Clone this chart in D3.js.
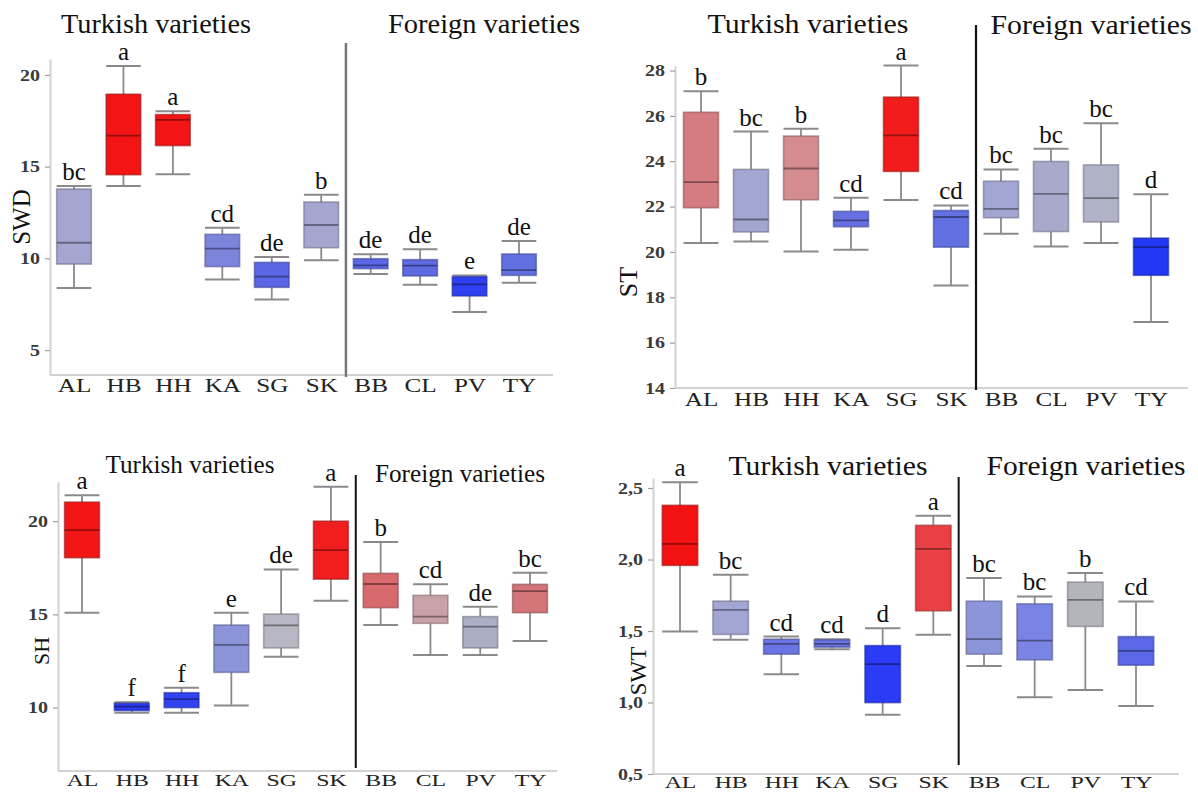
<!DOCTYPE html>
<html>
<head>
<meta charset="utf-8">
<script src="https://cdn.jsdelivr.net/npm/d3@7"></script>
<style>
  html, body { margin: 0; padding: 0; background: #fff; }
  svg { display: block; }
  text { font-family: "Liberation Serif", "Times New Roman", serif; }
</style>
</head>
<body>
<svg id="chart" width="1198" height="793"></svg>
<script>
// ---------------- DATA ----------------
const categories = ["AL", "HB", "HH", "KA", "SG", "SK", "BB", "CL", "PV", "TY"];
const groupTitles = ["Turkish varieties", "Foreign varieties"];

// SWD panel
const swdLow    = [8.38, 13.95, 14.58, 8.85, 7.76, 9.89, 9.15, 8.56, 7.07, 8.67];
const swdQ1     = [9.69, 14.56, 16.15, 9.55, 8.42, 10.58, 9.44, 9.04, 7.95, 9.07];
const swdMedian = [10.85, 16.69, 17.55, 10.53, 9.00, 11.82, 9.62, 9.60, 8.58, 9.36];
const swdQ3     = [13.78, 18.95, 17.84, 11.31, 9.78, 13.07, 9.98, 9.93, 9.00, 10.24];
const swdHigh   = [13.95, 20.49, 18.02, 11.67, 10.07, 13.47, 10.22, 10.49, 9.07, 10.95];
const swdLetters = ["bc", "a", "a", "cd", "de", "b", "de", "de", "e", "de"];
const swdTicks = [5, 10, 15, 20];

// ST panel
const stLow    = [20.39, 20.46, 20.02, 20.10, 22.29, 18.52, 20.80, 20.24, 20.39, 16.91];
const stQ1     = [21.95, 20.88, 22.30, 21.11, 23.55, 20.21, 21.51, 20.90, 21.32, 18.97];
const stMedian = [23.08, 21.43, 23.68, 21.39, 25.14, 21.54, 21.90, 22.56, 22.37, 20.21];
const stQ3     = [26.16, 23.64, 25.11, 21.79, 26.83, 21.83, 23.12, 23.99, 23.84, 20.61];
const stHigh   = [27.09, 25.31, 25.43, 22.39, 28.22, 22.05, 23.64, 24.55, 25.68, 22.54];
const stLetters = ["b", "bc", "b", "cd", "a", "cd", "bc", "bc", "bc", "d"];
const stTicks = [14, 16, 18, 20, 22, 24, 26, 28];

// SH panel
const shLow    = [15.09, 9.73, 9.73, 10.11, 12.73, 15.73, 14.43, 12.82, 12.82, 13.57];
const shQ1     = [18.04, 9.84, 10.00, 11.89, 13.20, 16.89, 15.36, 14.52, 13.20, 15.09];
const shMedian = [19.52, 10.05, 10.45, 13.36, 14.41, 18.45, 16.63, 14.88, 14.34, 16.25];
const shQ3     = [21.02, 10.23, 10.80, 14.43, 15.02, 20.00, 17.20, 16.02, 14.88, 16.61];
const shHigh   = [21.39, 10.29, 11.07, 15.09, 17.41, 21.84, 18.88, 16.61, 15.41, 17.23];
const shLetters = ["a", "f", "f", "e", "de", "a", "b", "cd", "de", "bc"];
const shTicks = [10, 15, 20];

// SWT panel
const swtLow    = [1.497, 1.438, 1.198, 1.373, 0.915, 1.473, 1.256, 1.037, 1.088, 0.976];
const swtQ1     = [1.959, 1.476, 1.338, 1.387, 0.999, 1.641, 1.338, 1.298, 1.532, 1.261];
const swtMedian = [2.110, 1.648, 1.410, 1.410, 1.268, 2.075, 1.443, 1.433, 1.718, 1.361];
const swtQ3     = [2.379, 1.709, 1.443, 1.438, 1.398, 2.239, 1.709, 1.690, 1.842, 1.461];
const swtHigh   = [2.540, 1.893, 1.461, 1.443, 1.520, 2.306, 1.870, 1.742, 1.905, 1.707];
const swtLetters = ["a", "bc", "cd", "cd", "d", "a", "bc", "bc", "b", "cd"];
const swtTicks = [0.5, 1.0, 1.5, 2.0, 2.5];

// box fill colours (style)
const swdColors = ["#a4a6cf", "#f31515", "#f31515", "#7c84dc", "#5a66e4", "#a4a6cf", "#5c68e6", "#5e6ae2", "#2f3ff2", "#6270e2"];
const stColors  = ["#d47c80", "#a2a6d0", "#d48c90", "#6670e2", "#f21c1c", "#6270e2", "#a2a6d2", "#a8aacc", "#b0b2c8", "#2238f2"];
const shColors  = ["#f21616", "#2a3cf2", "#3042f2", "#8c94da", "#b8b8c4", "#f01e1e", "#d86a6e", "#c8a2a6", "#acaec6", "#d27478"];
const swtColors = ["#f21212", "#a2a6d2", "#6a74e2", "#6a74e2", "#2a3cf5", "#e84044", "#8c94da", "#7a84e2", "#b4b4bc", "#5a68e8"];

// ---------------- DRAW ----------------
const svg = d3.select("#chart");

function drawPanel(p) {
  const g = svg.append("g");
  const x = d3.scalePoint().domain(categories).range([p.first, p.last]);
  const y = d3.scaleLinear().domain(p.domain).range([p.bottom, p.top]);
  const step = x.step();
  const bw = step * 0.7;

  // axes lines
  g.append("line").attr("x1", p.left).attr("x2", p.right)
    .attr("y1", p.bottom).attr("y2", p.bottom)
    .attr("stroke", "#d2d2d2").attr("stroke-width", 2);

  const yAxis = d3.axisLeft(y).tickValues(p.ticks).tickSize(5).tickSizeOuter(0).tickPadding(3)
    .tickFormat(p.fmt);
  const ya = g.append("g").attr("transform", `translate(${p.left},0)`).call(yAxis);
  ya.select(".domain").attr("stroke", "#d2d2d2").attr("stroke-width", 2);
  ya.selectAll(".tick line").attr("stroke", "#a0a0a0").attr("stroke-width", 1.2);
  ya.selectAll(".tick text")
    .attr("fill", "#3a3a3a").attr("font-size", 16).attr("font-weight", "bold")
    .attr("font-family", "Liberation Serif, serif")
    .attr("transform", "scale(1.25,1)");

  // x axis category labels
  const xAxis = d3.axisBottom(x).tickSize(0).tickPadding(p.labelPad);
  const xa = g.append("g").attr("transform", `translate(0,${p.bottom})`).call(xAxis);
  xa.select(".domain").remove();
  xa.selectAll(".tick text")
    .attr("fill", "#222").attr("font-size", p.labelSize)
    .attr("font-family", "Liberation Serif, serif")
    .attr("transform", "scale(1.4,1)");

  // separator
  const sepX = (x("SK") + x("BB")) / 2 + (p.sepShift || 0);
  g.append("line").attr("x1", sepX).attr("x2", sepX)
    .attr("y1", p.sepTop).attr("y2", p.sepBottom)
    .attr("stroke", p.sepColor).attr("stroke-width", p.sepWidth);

  // titles
  groupTitles.forEach((t, i) => {
    g.append("text").attr("x", p.titleX[i]).attr("y", p.titleY[i])
      .attr("text-anchor", "middle").attr("font-size", p.titleSize)
      .attr("fill", "#111")
      .attr("textLength", p.titleLen[i]).attr("lengthAdjust", "spacingAndGlyphs")
      .text(t);
  });

  // y label
  g.append("text")
    .attr("transform", `translate(${p.ylabX},${p.ylabY}) rotate(-90)`)
    .attr("text-anchor", "middle").attr("dy", "0.35em")
    .attr("font-size", p.ylabSize).attr("fill", "#111")
    .text(p.ylabel);

  // boxes
  const data = categories.map((c, i) => ({
    c, lo: p.low[i], q1: p.q1[i], med: p.med[i], q3: p.q3[i], hi: p.high[i],
    letter: p.letters[i], color: p.colors[i]
  }));

  const b = g.selectAll("g.box").data(data).enter().append("g").attr("class", "box");
  const wcol = "#8a8a8a";
  // whiskers
  b.append("line").attr("x1", d => x(d.c)).attr("x2", d => x(d.c))
    .attr("y1", d => y(d.hi)).attr("y2", d => y(d.q3))
    .attr("stroke", wcol).attr("stroke-width", 1.8);
  b.append("line").attr("x1", d => x(d.c)).attr("x2", d => x(d.c))
    .attr("y1", d => y(d.q1)).attr("y2", d => y(d.lo))
    .attr("stroke", wcol).attr("stroke-width", 1.8);
  // caps
  b.append("line").attr("x1", d => x(d.c) - bw / 2).attr("x2", d => x(d.c) + bw / 2)
    .attr("y1", d => y(d.hi)).attr("y2", d => y(d.hi))
    .attr("stroke", wcol).attr("stroke-width", 2);
  b.append("line").attr("x1", d => x(d.c) - bw / 2).attr("x2", d => x(d.c) + bw / 2)
    .attr("y1", d => y(d.lo)).attr("y2", d => y(d.lo))
    .attr("stroke", wcol).attr("stroke-width", 2);
  // box
  b.append("rect").attr("x", d => x(d.c) - bw / 2).attr("width", bw)
    .attr("y", d => y(d.q3)).attr("height", d => Math.max(1, y(d.q1) - y(d.q3)))
    .attr("fill", d => d.color)
    .attr("stroke", d => d3.color(d.color).darker(1.2).copy({opacity: 0.6}).toString())
    .attr("stroke-width", 1.6);
  // median
  b.append("line").attr("x1", d => x(d.c) - bw / 2).attr("x2", d => x(d.c) + bw / 2)
    .attr("y1", d => y(d.med)).attr("y2", d => y(d.med))
    .attr("stroke", d => d3.color(d.color).darker(1.4).toString()).attr("stroke-width", 1.8);
  // significance letters
  b.append("text").attr("x", d => x(d.c)).attr("y", d => y(d.hi) - 6)
    .attr("text-anchor", "middle").attr("font-size", 25).attr("fill", "#111")
    .text(d => d.letter);
}

const intFmt = d3.format("d");
const commaFmt = v => d3.format(".1f")(v).replace(".", ",");

drawPanel({
  first: 74, last: 519, left: 50, right: 553, top: 59, bottom: 375,
  domain: [3.64, 20.87], ticks: swdTicks, fmt: intFmt,
  low: swdLow, q1: swdQ1, med: swdMedian, q3: swdQ3, high: swdHigh,
  letters: swdLetters, colors: swdColors,
  sepTop: 43, sepBottom: 377, sepColor: "#777", sepWidth: 2.5,
  titleX: [156, 484], titleY: [33, 33], titleSize: 28, titleLen: [190, 192],
  ylabel: "SWD", ylabX: 21, ylabY: 217, ylabSize: 25, labelPad: 4, labelSize: 18
});

drawPanel({
  first: 701, last: 1151, left: 675, right: 1188, top: 66, bottom: 388,
  domain: [14, 28.2], ticks: stTicks, fmt: intFmt,
  low: stLow, q1: stQ1, med: stMedian, q3: stQ3, high: stHigh,
  letters: stLetters, colors: stColors,
  sepTop: 25, sepBottom: 390, sepColor: "#111", sepWidth: 2.2,
  titleX: [808, 1091], titleY: [33, 34], titleSize: 28, titleLen: [201, 201],
  ylabel: "ST", ylabX: 628, ylabY: 282, ylabSize: 26, labelPad: 5, labelSize: 18
});

drawPanel({
  first: 82, last: 530, left: 58, right: 557, top: 482, bottom: 771,
  domain: [6.6, 22.1], ticks: shTicks, fmt: intFmt,
  low: shLow, q1: shQ1, med: shMedian, q3: shQ3, high: shHigh,
  letters: shLetters, colors: shColors,
  sepTop: 475, sepBottom: 768, sepColor: "#111", sepWidth: 2,
  titleX: [190, 460], titleY: [473, 482], titleSize: 25, titleLen: [169, 170],
  ylabel: "SH", ylabX: 41, ylabY: 651, ylabSize: 22, labelPad: 3, labelSize: 17
});

drawPanel({
  first: 680, last: 1136, left: 653, right: 1179, top: 478, bottom: 774,
  domain: [0.5, 2.57], ticks: swtTicks, fmt: commaFmt,
  low: swtLow, q1: swtQ1, med: swtMedian, q3: swtQ3, high: swtHigh,
  letters: swtLetters, colors: swtColors,
  sepTop: 477, sepBottom: 765, sepColor: "#111", sepWidth: 2,
  titleX: [828, 1086], titleY: [475, 475], titleSize: 28, titleLen: [199, 199],
  ylabel: "SWT", ylabX: 638, ylabY: 671, ylabSize: 23, labelPad: 2, labelSize: 17
});
</script>
</body>
</html>
